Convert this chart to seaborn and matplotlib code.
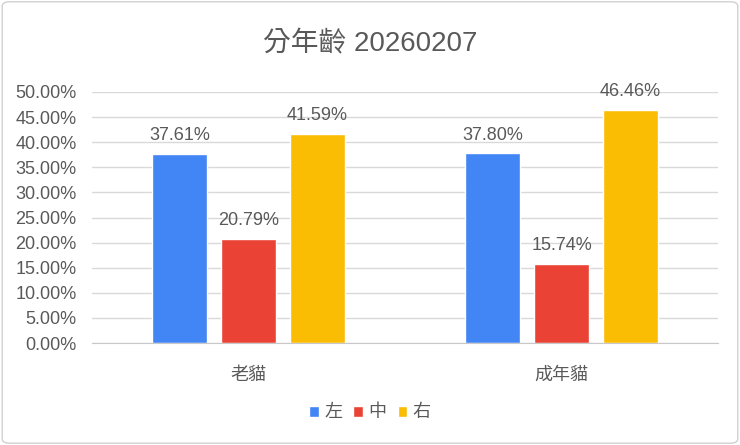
import numpy as np
import pandas as pd
import matplotlib
matplotlib.use('Agg')
import matplotlib.pyplot as plt
from matplotlib.patches import FancyBboxPatch
import seaborn as sns

categories = ['老貓', '成年貓']
sides = ['左', '中', '右']
values = {
    '左': [37.61, 37.80],
    '中': [20.79, 15.74],
    '右': [41.59, 46.46],
}
colors = ['#4285F4', '#EA4335', '#FBBC04']
yticks = [0, 5, 10, 15, 20, 25, 30, 35, 40, 45, 50]

rows = []
for s in sides:
    for c, v in zip(categories, values[s]):
        rows.append({'cat': c, 'side': s, 'val': v})
df = pd.DataFrame(rows)

sns.set_style('white')
plt.rcParams['font.family'] = ['Liberation Sans', 'Noto Sans CJK TC', 'DejaVu Sans']
text_col = '#595959'

fig = plt.figure(figsize=(7.4, 4.45), dpi=100)
ax = fig.add_axes([92 / 740, 1 - 343 / 445, 626 / 740, 251 / 445])

sns.barplot(data=df, x='cat', y='val', hue='side', order=categories, hue_order=sides,
            palette=colors, width=0.66, gap=0.2, saturation=1, ax=ax)

for cont in ax.containers:
    ax.bar_label(cont, labels=['%.2f%%' % b.get_height() for b in cont],
                 padding=7, fontsize=13, color=text_col)

ax.set_ylim(0, 50)
ax.set_xlim(-0.5, 1.5)
ax.set_yticks(yticks)
ax.set_yticklabels(['%.2f%%' % t for t in yticks])
ax.yaxis.grid(True, color='#d9d9d9', linewidth=1)
ax.set_axisbelow(True)
for sp in ['top', 'right', 'left']:
    ax.spines[sp].set_visible(False)
ax.spines['bottom'].set_color('#c8c8c8')
ax.tick_params(axis='both', length=0, labelsize=13, labelcolor=text_col)
ax.tick_params(axis='y', pad=11)
ax.tick_params(axis='x', pad=17)
ax.set_xlabel('')
ax.set_ylabel('')

ax.legend(loc='center', bbox_to_anchor=(0.5, 1 - 413 / 445), bbox_transform=fig.transFigure,
          ncol=3, frameon=False, fontsize=13, handlelength=0.55, handleheight=0.55,
          handletextpad=0.3, columnspacing=0.6, labelcolor=text_col)

fig.text(0.5, 1 - 44 / 445, '分年齡 20260207', ha='center', va='center',
         fontsize=20, color=text_col)

border = FancyBboxPatch((0.003, 0.004), 0.994, 0.992, boxstyle='round,pad=0,rounding_size=0.01',
                        transform=fig.transFigure, facecolor='none', edgecolor='#d0d0d0', linewidth=1)
fig.patches.append(border)

fig.savefig('out.png', dpi=100)
